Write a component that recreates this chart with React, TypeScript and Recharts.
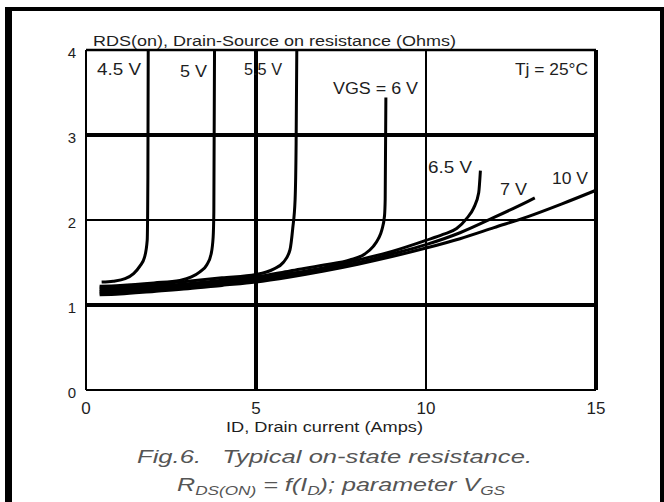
import React from 'react';
import { LineChart, Line, XAxis, YAxis, ReferenceLine } from 'recharts';

const xTicks = [0, 5, 10, 15];
const yTicks = [0, 1, 2, 3, 4];

// RDS(on) (Ohms) against ID (Amps), one list per gate voltage
const vgs45 = [[0.46, 1.27], [0.8, 1.28], [1.15, 1.31], [1.4, 1.37], [1.59, 1.46], [1.72, 1.56], [1.8, 1.76], [1.82, 2.5], [1.83, 4]];
const vgs5 = [[0.4, 1.22], [1, 1.23], [2, 1.26], [2.76, 1.29], [3.1, 1.33], [3.35, 1.39], [3.55, 1.47], [3.68, 1.6], [3.74, 1.8], [3.76, 2.1], [3.78, 4]];
const vgs55 = [[0.4, 1.2], [1, 1.21], [2, 1.24], [3, 1.28], [4, 1.32], [5, 1.36], [5.5, 1.42], [5.8, 1.5], [6.0, 1.65], [6.08, 1.9], [6.15, 2.24], [6.18, 2.9], [6.2, 4]];
const vgs6 = [[0.4, 1.18], [1, 1.19], [2, 1.22], [3, 1.25], [4, 1.29], [5, 1.33], [6, 1.4], [7, 1.47], [7.76, 1.53], [8.2, 1.6], [8.45, 1.69], [8.6, 1.78], [8.7, 1.88], [8.78, 2.05], [8.8, 2.25], [8.82, 3.44]];
const vgs65 = [[0.4, 1.16], [1, 1.17], [2, 1.2], [3, 1.23], [4, 1.27], [5, 1.31], [6, 1.37], [7, 1.44], [8, 1.53], [9, 1.63], [10, 1.76], [10.5, 1.83], [10.9, 1.9], [11.2, 2.02], [11.4, 2.14], [11.55, 2.32], [11.6, 2.58]];
const vgs7 = [[0.4, 1.14], [1, 1.15], [2, 1.18], [3, 1.21], [4, 1.25], [5, 1.29], [6, 1.35], [7, 1.42], [8, 1.5], [9, 1.6], [10, 1.71], [11, 1.85], [12, 2.03], [13, 2.22], [13.2, 2.26]];
const vgs10 = [[0.4, 1.12], [1, 1.13], [2, 1.16], [3, 1.19], [4, 1.23], [5, 1.27], [6, 1.33], [7, 1.4], [8, 1.48], [9, 1.57], [10, 1.67], [11, 1.78], [12, 1.91], [13, 2.04], [14, 2.19], [15, 2.35]];

const curves = [vgs45, vgs5, vgs55, vgs6, vgs65, vgs7, vgs10];
const toPoints = (pts: number[][]) => pts.map(([x, y]) => ({ x, y }));

const font = '"Liberation Sans", Arial, Helvetica, sans-serif';
const ink = '#1e1e1e';

const XTick = (props: any) => {
  const { x, y, payload } = props;
  return (
    <text x={x} y={y + 24} textAnchor="middle" fontSize={17} fontFamily={font} fill={ink}>
      {payload.value}
    </text>
  );
};

const YTick = (props: any) => {
  const { x, y, payload } = props;
  return (
    <text x={x - 10} y={y + 8} textAnchor="end" fontSize={15} fontFamily={font} fill={ink}>
      {payload.value}
    </text>
  );
};

const Note = ({ x, y, w, size = 16, children }: any) => (
  <text x={x} y={y} fontSize={size} fontFamily={font} fill={ink} textLength={w} lengthAdjust="spacingAndGlyphs">
    {children}
  </text>
);

export default function App() {
  return (
    <div style={{ position: 'absolute', left: 0, top: 0, width: 664, height: 502, background: '#fff', overflow: 'hidden' }}>
      <div
        style={{
          position: 'absolute', left: 5, top: 7, width: 659, height: 520, boxSizing: 'border-box',
          borderLeft: '7px solid #000', borderTop: '4px solid #000', borderRight: '4px solid #000',
        }}
      />
      <div style={{ position: 'absolute', left: 0, top: 0 }}>
        <LineChart width={664} height={502} margin={{ top: 50, right: 68, bottom: 82, left: 56 }}>
          <XAxis type="number" dataKey="x" domain={[0, 15]} ticks={xTicks} interval={0}
            axisLine={false} tickLine={false} tickSize={0} tickMargin={0} height={30} tick={<XTick />} />
          <YAxis type="number" dataKey="y" domain={[0, 4]} ticks={yTicks} interval={0}
            axisLine={false} tickLine={false} tickSize={0} tickMargin={0} width={30} tick={<YTick />} />
          <ReferenceLine y={1} stroke="#000" strokeWidth={4} />
          <ReferenceLine y={2} stroke="#000" strokeWidth={2} />
          <ReferenceLine y={3} stroke="#000" strokeWidth={4} />
          <ReferenceLine x={5} stroke="#000" strokeWidth={4} />
          <ReferenceLine x={10} stroke="#000" strokeWidth={2} />
          <ReferenceLine y={0} stroke="#000" strokeWidth={2} />
          <ReferenceLine y={4} stroke="#000" strokeWidth={2.5} />
          <ReferenceLine x={0} stroke="#000" strokeWidth={2} />
          <ReferenceLine x={15} stroke="#000" strokeWidth={4} />
          {curves.map((c, i) => (
            <Line key={i} data={toPoints(c)} dataKey="y" type="monotone" stroke="#000" strokeWidth={3}
              dot={false} activeDot={false} isAnimationActive={false} />
          ))}
        </LineChart>
      </div>
      <svg width={664} height={502} style={{ position: 'absolute', left: 0, top: 0, pointerEvents: 'none' }}>
        <Note x={93} y={46} w={363} size={15.5}>RDS(on), Drain-Source on resistance (Ohms)</Note>
        <Note x={97} y={75} w={44}>4.5 V</Note>
        <Note x={180} y={77} w={27}>5 V</Note>
        <Note x={244} y={75} w={38}>5.5 V</Note>
        <Note x={333} y={94} w={85}>VGS = 6 V</Note>
        <Note x={515} y={75} w={73}>Tj = 25°C</Note>
        <Note x={428} y={173} w={44}>6.5 V</Note>
        <Note x={500} y={195} w={27}>7 V</Note>
        <Note x={552} y={184} w={36}>10 V</Note>
        <Note x={226} y={432} w={197} size={15.5}>ID, Drain current (Amps)</Note>
        <text x={137} y={463} fontSize={19} fontStyle="italic" fontFamily={font} fill="#555"
          textLength={395} lengthAdjust="spacingAndGlyphs" xmlSpace="preserve" style={{ whiteSpace: 'pre' }}>
          {'Fig.6.   Typical on-state resistance.'}
        </text>
        <text x={177} y={491} fontSize={19} fontStyle="italic" fontFamily={font} fill="#555"
          textLength={328} lengthAdjust="spacingAndGlyphs" xmlSpace="preserve" style={{ whiteSpace: 'pre' }}>
          R<tspan fontSize={13} dy={4}>DS(ON)</tspan><tspan dy={-4}>{' = f(I'}</tspan><tspan fontSize={13} dy={4}>D</tspan><tspan dy={-4}>{'); parameter V'}</tspan><tspan fontSize={13} dy={4}>GS</tspan>
        </text>
      </svg>
    </div>
  );
}
